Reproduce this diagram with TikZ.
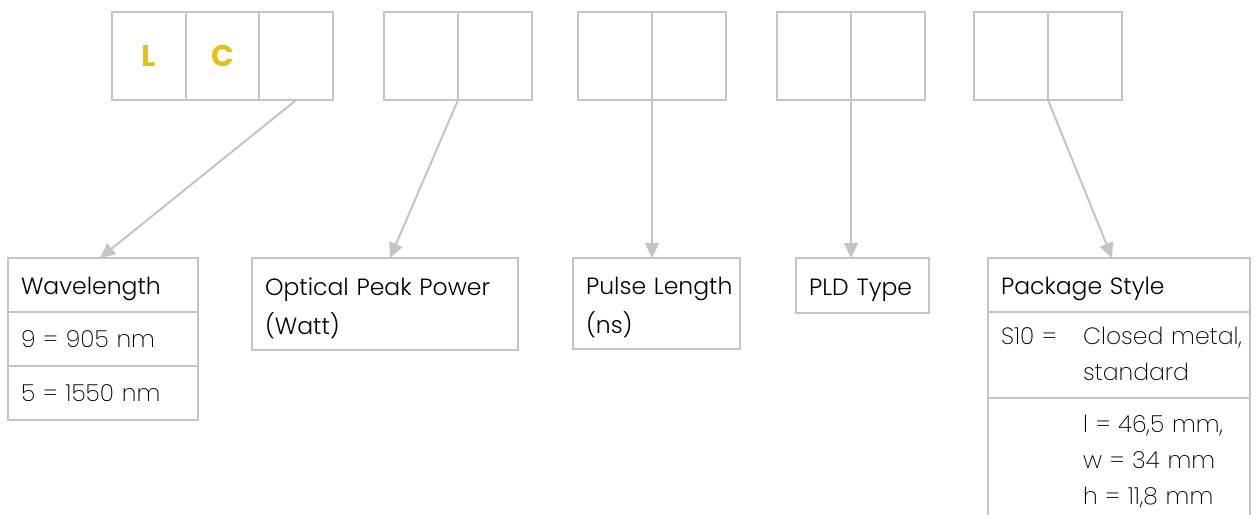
\documentclass[tikz,border=0pt]{standalone}
\usepackage{fontspec}
\IfFontExistsTF{Poppins Light}{\newfontfamily\titlefont{Poppins Light}}{\newfontfamily\titlefont{Poppins}}
\IfFontExistsTF{Poppins ExtraLight}{\newfontfamily\valuefont{Poppins ExtraLight}}{\let\valuefont\titlefont}
\IfFontExistsTF{Poppins Bold}{\newfontfamily\codefont{Poppins Bold}}{\newfontfamily\codefont{Poppins}[FakeBold=2]}
\usetikzlibrary{arrows.meta,positioning}
\definecolor{rulegray}{HTML}{C4C4C4}
\definecolor{codeyellow}{HTML}{E2C11F}
\tikzset{
  cell/.style={draw=rulegray, line width=2pt, minimum width=74pt, minimum height=88pt,
    anchor=north west, inner sep=0pt, outer sep=0pt},
  letter/.style={text=codeyellow, font=\codefont\fontsize{30}{30}\selectfont},
  field/.style={draw=rulegray, line width=2pt, anchor=north west, inner xsep=13pt, inner ysep=0pt,
    outer sep=0pt, align=left},
  title/.style={font=\titlefont\fontsize{23.5}{39}\selectfont, execute at begin node=\rule{0pt}{26pt}},
  value/.style={font=\valuefont\fontsize{23.5}{36}\selectfont},
  pointer/.style={draw=rulegray, line width=2pt, -{Triangle[length=15pt,width=14pt]}}
}
\begin{document}
\begin{tikzpicture}[x=1pt,y=-1pt]
  \useasboundingbox (0,0) rectangle (1257,514);
  \node[cell, letter, minimum width=73.7pt] (lc1) at (112,12) {L};
  \node[cell, letter, minimum width=73.7pt] (lc2) at (lc1.north east) {C};
  \node[cell, minimum width=73.7pt] (lc3) at (lc2.north east) {};
  \foreach \x/\n in {384/pw,578/pl,777/pt,974/ps}{
    \node[cell] (\n1) at (\x,12) {};
    \node[cell] (\n2) at (\n1.north east) {};
  }
  \node[field, title, text width=164pt, minimum height=54pt] (wl) at (8,258) {Wavelength};
  \node[field, value, text width=164pt, minimum height=54pt] (wl9) at (wl.south west) {9 = 905 nm};
  \node[field, value, text width=164pt, minimum height=54pt] (wl5) at (wl9.south west) {5 = 1550 nm};
  \node[field, title, text width=240pt, minimum height=92pt] (opt) at (252,258) {Optical Peak Power\\(Watt)};
  \node[field, title, text width=141pt, minimum height=91pt] (pls) at (573,258) {\mbox{Pulse Length}\\(ns)};
  \node[field, title, text width=107pt, minimum height=55pt] (pld) at (796,258) {PLD Type};
  \node[field, title, text width=236pt, minimum height=54pt] (pkg) at (988,258) {Package Style};
  \node[field, value, text width=236pt, minimum height=86pt] (pkgs) at (pkg.south west)
    {\begin{tabular}{@{}p{82pt}@{}l@{}}S10 =& Closed metal,\\ & standard\end{tabular}};
  \node[field, value, draw=none, text width=236pt, minimum height=126pt] (pkgd) at (pkgs.south west)
    {\begin{tabular}{@{}p{82pt}@{}l@{}}& l = 46,5 mm,\\ & w = 34 mm\\ & h = 11,8 mm\end{tabular}};
  \draw[rulegray, line width=2pt] (pkgd.south west) -- (pkgd.north west) (pkgd.north east) -- (pkgd.south east);
  \draw[pointer] (lc3.south) -- ([xshift=-3pt]wl.north);
  \draw[pointer] (pw1.south east) -- ([xshift=5pt]opt.north);
  \draw[pointer] (pl1.south east) -- (pl1.south east |- pls.north);
  \draw[pointer] (pt1.south east) -- (pt1.south east |- pld.north);
  \draw[pointer] (ps1.south east) -- ([xshift=-7pt]pkg.north);
\end{tikzpicture}
\end{document}
